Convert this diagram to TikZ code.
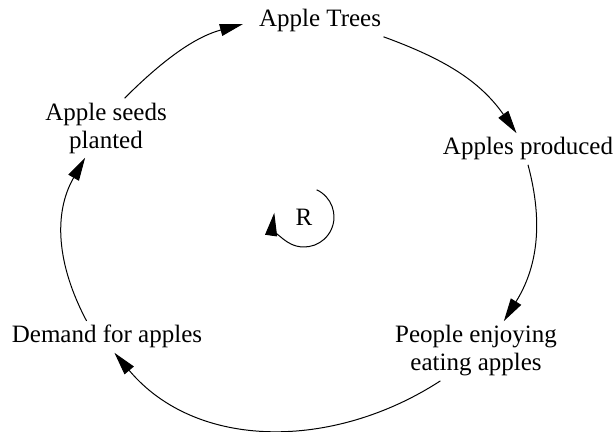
\documentclass[tikz,border=0pt]{standalone}
\usepackage{fontspec}
\setmainfont{Liberation Serif}
\usetikzlibrary{arrows.meta}

\begin{document}
\begin{tikzpicture}[x=0.5pt,y=0.5pt,-{Triangle[length=11.5pt,width=6pt]},line width=0.5pt,
    var/.style={font=\fontsize{12.5pt}{14pt}\selectfont, align=center, inner sep=2pt}]
    \useasboundingbox (0,0) rectangle (616,-432);
    % Variables
    \node [var, anchor=base] (trees) at (320,-27) {Apple Trees};
    \node [var, anchor=base] (produced) at (528,-155) {Apples produced};
    \node [var] (people) at (476,-351) {People enjoying\\eating apples};
    \node [var, anchor=base] (demand) at (107,-343) {Demand for apples};
    \node [var] (seeds) at (106,-128) {Apple seeds\\planted};

    % Loop label
    \node [var] (R) at (304,-217) {R};

    % Links
    \path (seeds.58) edge[out=45, in=195, shorten >=6pt] (trees.west);
    \path (trees.-14) edge[out=-20, in=125] (produced.126);
    \path (produced.south) edge[out=-75, in=58] (people.47);
    \path (people.220) edge[out=-147, in=-50] (demand.-65);
    \path (demand.142) edge[out=118, in=240] (seeds.235);

    % Loop arrow
    \draw (R.center) ++(65:30) arc[start angle=65, end angle=-188, radius=30];
\end{tikzpicture}
\end{document}
